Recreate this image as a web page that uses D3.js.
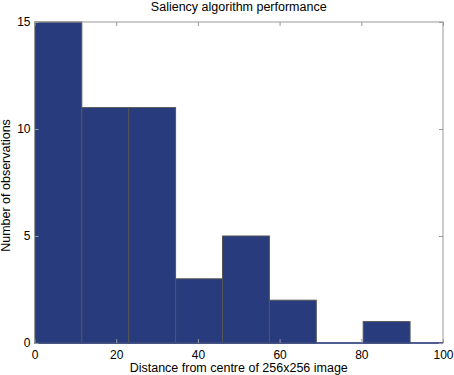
<!DOCTYPE html>
<html>
<head>
<meta charset="utf-8">
<script src="https://cdn.jsdelivr.net/npm/d3@7"></script>
<style>
  body { margin: 0; background: #fff; }
  text { font-family: "Liberation Sans", Arial, sans-serif; }
</style>
</head>
<body>
<div id="chart"></div>
<script>
// histogram bins (MATLAB hist, 8 bins)
const binStart = 0.1;
const binWidth = 11.48;
const counts = [15, 11, 11, 3, 5, 2, 0, 1];
const xTicks = [0, 20, 40, 60, 80, 100];
const yTicks = [0, 5, 10, 15];

const margin = { top: 22, right: 11, bottom: 32, left: 34.5 },
      width = 454 - margin.left - margin.right,
      height = 375 - margin.top - margin.bottom;

const svg = d3.select("#chart")
  .append("svg")
    .attr("width", 454)
    .attr("height", 375)
  .append("g")
    .attr("transform", `translate(${margin.left},${margin.top})`);

const x = d3.scaleLinear().domain([0, 100]).range([0, width]);
const y = d3.scaleLinear().domain([0, 15]).range([height, 0]);

const bins = counts.map((c, i) => ({ x0: binStart + i * binWidth, x1: binStart + (i + 1) * binWidth, n: c }));

// bars
svg.selectAll("rect.bar")
  .data(bins.filter(d => d.n > 0))
  .join("rect")
    .attr("class", "bar")
    .attr("x", d => x(d.x0))
    .attr("y", d => y(d.n))
    .attr("width", d => x(d.x1) - x(d.x0))
    .attr("height", d => y(0) - y(d.n))
    .attr("fill", "#283b7d")
    .attr("stroke", "#555")
    .attr("stroke-width", 1);

// box
svg.append("rect")
  .attr("width", width)
  .attr("height", height)
  .attr("fill", "none")
  .attr("stroke", "#999")
  .attr("stroke-width", 1);

svg.append("line")
  .attr("x1", 0).attr("x2", width)
  .attr("y1", height).attr("y2", height)
  .attr("stroke", "#283b7d")
  .attr("stroke-width", 1.5);

// axes with inward ticks (MATLAB style)
const axStyle = g => {
  g.select(".domain").remove();
  g.selectAll(".tick line").attr("stroke", "#999");
  g.selectAll(".tick text").attr("fill", "#000").style("font-size", "12px");
};

svg.append("g")
  .attr("transform", `translate(0,${height})`)
  .call(d3.axisBottom(x).tickValues(xTicks).tickSize(-4).tickPadding(7))
  .call(axStyle);

svg.append("g")
  .call(d3.axisTop(x).tickValues(xTicks).tickSize(-4).tickFormat(""))
  .call(axStyle);

svg.append("g")
  .call(d3.axisLeft(y).tickValues(yTicks).tickSize(-4).tickPadding(4))
  .call(axStyle);

svg.append("g")
  .attr("transform", `translate(${width},0)`)
  .call(d3.axisRight(y).tickValues(yTicks).tickSize(-4).tickFormat(""))
  .call(axStyle);

// labels
svg.append("text")
  .attr("x", width / 2)
  .attr("y", -11.5)
  .attr("text-anchor", "middle")
  .style("font-size", "12.5px")
  .text("Saliency algorithm performance");

svg.append("text")
  .attr("x", width / 2)
  .attr("y", height + 28.5)
  .attr("text-anchor", "middle")
  .style("font-size", "12.5px")
  .text("Distance from centre of 256x256 image");

svg.append("text")
  .attr("transform", `translate(${-24.5},${height / 2 + 3}) rotate(-90)`)
  .attr("text-anchor", "middle")
  .style("font-size", "12.5px")
  .text("Number of observations");
</script>
</body>
</html>
